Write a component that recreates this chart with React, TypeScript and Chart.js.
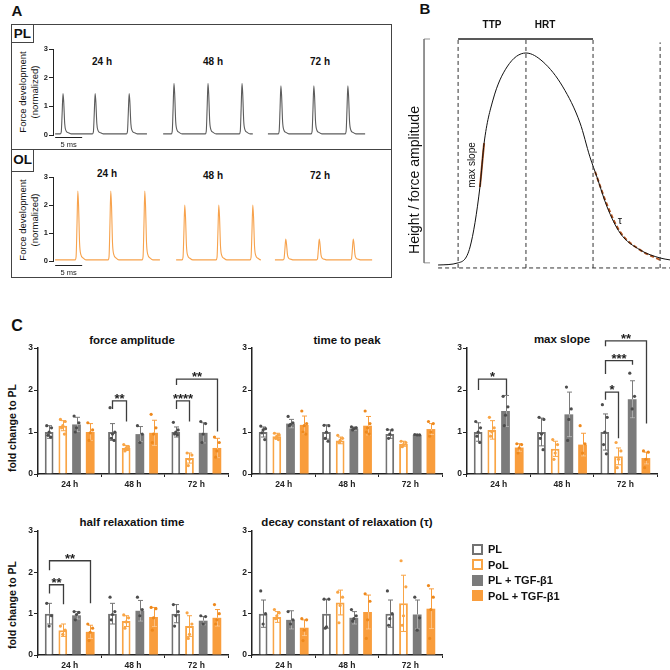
import React, { useEffect, useRef } from "react";
import { Chart, registerables } from "chart.js";

Chart.register(...registerables);

const FONT = '"Liberation Sans", Arial, Helvetica, sans-serif';

// ---------------- Panel A: normalized twitch traces ----------------
const TRACE_TIMEPOINTS = ["24 h", "48 h", "72 h"];
const TRACE_Y_MAX = 3;
const TRACE_BASELINE = 0.04;
// time windows (ms) of each recording and the time (ms) of every twitch peak
const PL_SEGMENTS = [[0.4, 17.4], [20.4, 37.0], [39.8, 57.8]];
const PL_PEAK_TIMES = [[1.85, 7.8, 14.1], [22.4, 28.7, 35.0], [42.2, 48.3, 54.6]];
const PL_PEAK_HEIGHTS = [1.45, 1.8, 1.72];
const OL_SEGMENTS = [[0.4, 19.8], [22.8, 38.3], [41.1, 59.1]];
const OL_PEAK_TIMES = [[4.6, 10.7, 17.0], [24.4, 30.7, 37.0], [43.1, 49.3, 55.6]];
const OL_PEAK_HEIGHTS = [2.5, 2.0, 0.78];
// single twitch profile: [ms relative to peak, fraction of peak height]
const TWITCH_SHAPE = [
  [-0.5, 0], [-0.32, 0.05], [-0.16, 0.5], [0, 1], [0.14, 0.78],
  [0.32, 0.25], [0.55, 0.08], [0.95, 0.03], [1.5, 0],
];
const SCALE_BAR_MS = [0.4, 5.4];

// ---------------- Panel B: twitch parameter schematic ----------------
const B_CURVE_T = [10.8, 18.5, 23.1, 26.9, 28.5, 31.9, 37.3, 44.6, 51.2, 58.8, 65.4, 69.2, 71.9, 75.8, 80.8, 88.5, 96.2, 100];
const B_CURVE_V = [0, 0.01, 0.085, 0.368, 0.575, 0.778, 0.934, 1.0, 0.958, 0.84, 0.67, 0.51, 0.415, 0.274, 0.151, 0.071, 0.033, 0.024];
const B_SLOPE_T = [26.9, 28.5];
const B_SLOPE_V = [0.368, 0.575];
const B_TAU_T = [71.2, 75.8, 80.8, 88.5, 96.2];
const B_TAU_V = [0.44, 0.283, 0.156, 0.071, 0.024];
const B_GUIDE_T = [18.5, 44.6, 70.4, 96.2];
const B_GUIDE_TOP = [1.066, 1.066, 1.066, 1.05];
const B_BASE_V = -0.014;
const B_TOP_V = 1.066;

// ---------------- Panel C: fold change to PL ----------------
const GROUPS = ["PL", "PoL", "PL + TGF-β1", "PoL + TGF-β1"];
const TIMEPOINTS = ["24 h", "48 h", "72 h"];
const Y_TICKS = [0, 1, 2, 3];
const BAR_FILL = ["#ffffff", "#ffffff", "#7b7b7b", "#f99d3c"];
const BAR_EDGE = ["#727272", "#f9a546", "#7b7b7b", "#f99d3c"];
const DOT_COLOR = ["#4d4d4d", "#f9a546", "#4d4d4d", "#ee891d"];

// values indexed [group][timepoint]; dots are individual samples
const forceAmpMean = [[1.0, 1.0, 1.0], [1.15, 0.62, 0.38], [1.18, 0.95, 0.98], [1.0, 0.98, 0.62]];
const forceAmpSD = [[0.15, 0.2, 0.12], [0.12, 0.06, 0.12], [0.17, 0.18, 0.24], [0.2, 0.3, 0.23]];
const forceAmpDots = [
  [[1.15, 1.1, 1.0, 0.92, 0.88], [1.58, 1.0, 0.95, 0.85, 0.8], [1.23, 1.05, 1.0, 0.95, 0.93]],
  [[1.3, 1.25, 1.15, 1.1, 0.95], [0.7, 0.65, 0.62, 0.55], [0.5, 0.45, 0.35, 0.2]],
  [[1.38, 1.22, 1.1, 1.0], [1.15, 0.95, 0.75], [1.25, 1.2, 0.95, 0.75]],
  [[1.22, 1.05, 0.98, 0.8], [1.42, 1.1, 0.95, 0.75], [0.88, 0.75, 0.55, 0.4]],
];
// [timepoint, from group, to group, bracket top, left leg end, right leg end, label]
const forceAmpStats = [
  [1, 0, 1, 1.74, 1.55, 1.25, "**"],
  [2, 0, 1, 1.74, 1.55, 1.25, "****"],
  [2, 0, 3, 2.26, 2.12, 1.01, "**"],
];

const ttpMean = [[1.0, 1.0, 0.95], [0.9, 0.8, 0.72], [1.2, 1.08, 0.93], [1.17, 1.15, 1.07]];
const ttpSD = [[0.12, 0.17, 0.1], [0.07, 0.08, 0.06], [0.1, 0.04, 0.01], [0.21, 0.22, 0.13]];
const ttpDots = [
  [[1.14, 1.08, 1.05, 0.98, 0.82], [1.16, 1.15, 1.0, 0.85, 0.78], [1.06, 1.05, 0.95, 0.85]],
  [[0.97, 0.93, 0.9, 0.85, 0.82], [0.92, 0.85, 0.8, 0.75], [0.78, 0.75, 0.7, 0.65]],
  [[1.37, 1.22, 1.18, 1.15], [1.12, 1.1, 1.08, 1.05], [0.94, 0.93, 0.93]],
  [[1.5, 1.2, 1.15, 1.0, 0.95], [1.5, 1.2, 1.1, 1.0, 0.95], [1.25, 1.2, 1.0, 0.9]],
];
const ttpStats: any[] = [];

const slopeMean = [[1.0, 1.0, 1.0], [1.05, 0.6, 0.42], [1.5, 1.42, 1.78], [0.63, 0.7, 0.38]];
const slopeSD = [[0.22, 0.33, 0.43], [0.22, 0.18, 0.2], [0.37, 0.53, 0.44], [0.09, 0.27, 0.14]];
const slopeDots = [
  [[1.25, 1.1, 1.0, 0.9, 0.75], [1.35, 1.3, 0.95, 0.85, 0.58], [1.65, 1.35, 1.0, 0.7, 0.48]],
  [[1.35, 1.1, 1.0, 0.9], [0.82, 0.7, 0.5, 0.35], [0.75, 0.55, 0.35, 0.15]],
  [[1.85, 1.6, 1.4, 1.15], [2.07, 1.55, 1.3, 0.8], [2.4, 1.85, 1.55]],
  [[0.72, 0.7, 0.62, 0.5], [1.15, 0.72, 0.5], [0.55, 0.52, 0.35, 0.15]],
];
const slopeStats = [
  [0, 0, 2, 2.26, 2.0, 1.88, "*"],
  [2, 0, 1, 1.95, 1.77, 0.85, "*"],
  [2, 0, 2, 2.7, 2.38, 2.6, "***"],
  [2, 0, 3, 3.17, 3.04, 1.2, "**"],
];

const hrtMean = [[1.0, 1.0, 1.0], [0.6, 0.82, 0.7], [0.96, 1.07, 0.83], [0.56, 0.92, 0.9]];
const hrtSD = [[0.25, 0.25, 0.22], [0.15, 0.13, 0.25], [0.09, 0.25, 0.1], [0.16, 0.23, 0.2]];
const hrtDots = [
  [[1.25, 0.95, 0.7], [1.4, 1.05, 0.98, 0.85], [1.22, 1.05, 0.95, 0.7]],
  [[0.7, 0.6, 0.5], [0.97, 0.9, 0.8, 0.65], [1.02, 0.75, 0.5, 0.4]],
  [[1.05, 1.03, 0.98, 0.85], [1.4, 1.1, 0.95], [0.95, 0.93, 0.75]],
  [[0.75, 0.65, 0.55, 0.35], [1.15, 1.12, 0.9, 0.6], [1.22, 1.0, 0.85, 0.75]],
];
const hrtStats = [
  [0, 0, 1, 1.7, 1.49, 1.23, "**"],
  [0, 0, 3, 2.28, 2.05, 1.25, "**"],
];

const tauMean = [[1.0, 1.0, 1.0], [0.92, 1.27, 1.25], [0.85, 0.9, 0.98], [0.66, 1.04, 1.12]];
const tauSD = [[0.33, 0.35, 0.33], [0.13, 0.3, 0.68], [0.22, 0.15, 0.35], [0.19, 0.41, 0.48]];
const tauDots = [
  [[1.55, 1.0, 0.75], [1.35, 1.35, 0.68, 0.65], [1.55, 1.0, 0.88, 0.72]],
  [[1.1, 1.02, 0.95, 0.88], [1.52, 1.4, 1.2, 0.78], [2.28, 1.65, 0.95, 0.72]],
  [[1.05, 0.85, 0.75], [1.1, 0.95, 0.88, 0.82], [1.4, 0.9, 0.6]],
  [[0.88, 0.85, 0.6, 0.35], [1.48, 1.3, 0.85, 0.4], [1.68, 1.4, 1.1, 0.4]],
];
const tauStats: any[] = [];

const DOT_JITTER = [-2.4, 2.4, 0, -1.2, 1.6];

// ---------------- helpers ----------------
function Label(props: {
  x: number; y: number; size: number; bold?: boolean; rotate?: boolean;
  color?: string; lineHeight?: number; children: React.ReactNode;
}) {
  const { x, y, size, bold, rotate, color, lineHeight, children } = props;
  return (
    <div
      style={{
        position: "absolute",
        left: x,
        top: y,
        transform: `translate(-50%, -50%)${rotate ? " rotate(-90deg)" : ""}`,
        fontFamily: FONT,
        fontSize: size,
        fontWeight: bold ? 700 : 400,
        color: color || "#111",
        whiteSpace: "nowrap",
        lineHeight: lineHeight ? `${lineHeight}px` : 1,
        textAlign: "center",
      }}
    >
      {children}
    </div>
  );
}

function twitchTrace(seg: number[], peaks: number[], h: number) {
  const pts = [{ x: seg[0], y: TRACE_BASELINE }];
  peaks.forEach((p) =>
    TWITCH_SHAPE.forEach(([dt, f]) =>
      pts.push({ x: p + dt, y: TRACE_BASELINE + (h - TRACE_BASELINE) * f })
    )
  );
  pts.push({ x: seg[1], y: TRACE_BASELINE });
  return pts;
}

// ---------------- Panel A chart ----------------
function TracePanel(props: {
  segments: number[][]; peaks: number[][]; heights: number[];
  color: string; top: number; plotH: number; barGap: number;
}) {
  const { segments, peaks, heights, color, top, plotH, barGap } = props;
  const ref = useRef<HTMLCanvasElement>(null);
  const PAD_T = 6, PAD_B = 16, AX_W = 20, PLOT_W = 324;
  useEffect(() => {
    const scaleBar = {
      id: "scaleBar",
      afterDraw(chart: any) {
        const { ctx } = chart;
        const xs = chart.scales.x, ys = chart.scales.y;
        const x1 = xs.getPixelForValue(SCALE_BAR_MS[0]);
        const x2 = xs.getPixelForValue(SCALE_BAR_MS[1]);
        const y = ys.getPixelForValue(0) + barGap;
        ctx.save();
        ctx.strokeStyle = "#222";
        ctx.lineWidth = 1;
        ctx.beginPath();
        ctx.moveTo(x1, y + 0.5);
        ctx.lineTo(x2, y + 0.5);
        ctx.stroke();
        ctx.fillStyle = "#222";
        ctx.font = `7.5px ${FONT}`;
        ctx.textAlign = "center";
        ctx.textBaseline = "middle";
        ctx.fillText("5 ms", (x1 + x2) / 2, y + 8);
        ctx.restore();
      },
    };
    const chart = new Chart(ref.current as HTMLCanvasElement, {
      type: "line",
      data: {
        datasets: segments.map((seg, i) => ({
          data: twitchTrace(seg, peaks[i], heights[i]),
          borderColor: color,
          borderWidth: 1.1,
          pointRadius: 0,
          cubicInterpolationMode: "monotone",
          fill: false,
        })),
      },
      options: {
        animation: false,
        responsive: false,
        maintainAspectRatio: false,
        layout: { padding: { top: PAD_T, right: 4, bottom: PAD_B, left: 0 } },
        plugins: { legend: { display: false }, tooltip: { enabled: false } },
        scales: {
          x: { type: "linear", min: 0, max: 60, display: false },
          y: {
            min: 0,
            max: TRACE_Y_MAX,
            ticks: { stepSize: 1, color: "#222", padding: 1, font: { size: 7.5, weight: "bold", family: FONT } },
            grid: { display: true, drawOnChartArea: false, drawTicks: true, tickLength: 4, color: "#222" },
            border: { color: "#222", width: 1 },
            afterFit: (s: any) => { s.width = AX_W; },
          },
        },
      },
      plugins: [scaleBar],
    } as any);
    return () => chart.destroy();
  }, []);
  return (
    <canvas
      ref={ref}
      width={AX_W + PLOT_W + 4}
      height={PAD_T + plotH + PAD_B}
      style={{ position: "absolute", left: 53 - AX_W, top: top - PAD_T }}
    />
  );
}

// ---------------- Panel B chart ----------------
function SchematicPanel() {
  const ref = useRef<HTMLCanvasElement>(null);
  useEffect(() => {
    const pts = (t: number[], v: number[]) => t.map((x, i) => ({ x, y: v[i] }));
    const guides = B_GUIDE_T.map((t, i) => ({
      data: [{ x: t, y: B_BASE_V }, { x: t, y: B_GUIDE_TOP[i] }],
      borderColor: "#333",
      borderWidth: 1,
      borderDash: [4, 3],
      pointRadius: 0,
      clip: false,
    }));
    const chart = new Chart(ref.current as HTMLCanvasElement, {
      type: "line",
      data: {
        datasets: [
          ...guides,
          {
            data: [{ x: B_CURVE_T[0], y: B_BASE_V }, { x: 100, y: B_BASE_V }],
            borderColor: "#333", borderWidth: 1, borderDash: [4, 3], pointRadius: 0, clip: false,
          },
          {
            data: [{ x: B_GUIDE_T[0], y: B_TOP_V }, { x: B_GUIDE_T[2], y: B_TOP_V }],
            borderColor: "#222", borderWidth: 1.3, pointRadius: 0, clip: false,
          },
          {
            data: [
              { x: 7.7, y: B_TOP_V }, { x: 5.4, y: B_TOP_V },
              { x: 5.4, y: 0.01 }, { x: 7.7, y: 0.01 },
            ],
            borderColor: "#777", borderWidth: 0.8, pointRadius: 0, clip: false,
          },
          {
            data: pts(B_CURVE_T, B_CURVE_V),
            borderColor: "#111", borderWidth: 1, pointRadius: 0,
            cubicInterpolationMode: "monotone", clip: false,
          },
          {
            data: pts(B_SLOPE_T, B_SLOPE_V),
            borderColor: "#b4531e", borderWidth: 2, pointRadius: 0,
          },
          {
            data: pts(B_TAU_T, B_TAU_V),
            borderColor: "#b4531e", borderWidth: 2, borderDash: [4, 2.5], pointRadius: 0,
            cubicInterpolationMode: "monotone", clip: false,
          },
        ],
      },
      options: {
        animation: false,
        responsive: false,
        maintainAspectRatio: false,
        layout: { padding: 0 },
        plugins: { legend: { display: false }, tooltip: { enabled: false } },
        scales: {
          x: { type: "linear", min: 0, max: 100, display: false },
          y: { min: -0.0708, max: 1.25, display: false },
        },
      },
    } as any);
    return () => chart.destroy();
  }, []);
  return <canvas ref={ref} width={260} height={280} style={{ position: "absolute", left: 410, top: 0 }} />;
}

// ---------------- Panel C chart ----------------
function BarPanel(props: {
  means: number[][]; sds: number[][]; dots: number[][][]; stats: any[];
  axisX: number; y3: number; y0: number;
}) {
  const { means, sds, dots, stats, axisX, y3, y0 } = props;
  const ref = useRef<HTMLCanvasElement>(null);
  const AX_W = 24, PAD_T = 40, AX_H = 18, PLOT_W = 190, PAD_R = 4;
  const plotH = y0 - y3;
  useEffect(() => {
    const marks = {
      id: "marks",
      afterDatasetsDraw(chart: any) {
        const { ctx } = chart;
        const ys = chart.scales.y;
        const barX = (g: number, t: number) => chart.getDatasetMeta(g).data[t].x;
        ctx.save();
        // error bars (mean ± SD)
        for (let g = 0; g < GROUPS.length; g++) {
          for (let t = 0; t < TIMEPOINTS.length; t++) {
            const x = Math.round(barX(g, t)) + 0.5;
            const m = means[g][t], s = sds[g][t];
            const yt = ys.getPixelForValue(m + s);
            const ym = ys.getPixelForValue(m);
            const yb = ys.getPixelForValue(Math.max(0, m - s));
            ctx.lineWidth = 1;
            ctx.strokeStyle = BAR_EDGE[g];
            ctx.beginPath();
            ctx.moveTo(x, ym);
            ctx.lineTo(x, yt);
            ctx.moveTo(x - 2.5, yt);
            ctx.lineTo(x + 2.5, yt);
            ctx.stroke();
            ctx.strokeStyle = g >= 2 ? "rgba(255,255,255,0.35)" : BAR_EDGE[g];
            ctx.beginPath();
            ctx.moveTo(x, ym);
            ctx.lineTo(x, yb);
            ctx.moveTo(x - 2.5, yb);
            ctx.lineTo(x + 2.5, yb);
            ctx.stroke();
          }
        }
        // individual samples
        for (let g = 0; g < GROUPS.length; g++) {
          for (let t = 0; t < TIMEPOINTS.length; t++) {
            const x = barX(g, t);
            ctx.fillStyle = DOT_COLOR[g];
            dots[g][t].forEach((v, i) => {
              ctx.beginPath();
              ctx.arc(x + DOT_JITTER[i % DOT_JITTER.length], ys.getPixelForValue(v), 1.6, 0, Math.PI * 2);
              ctx.fill();
            });
          }
        }
        // significance brackets
        stats.forEach(([t, g1, g2, top, l1, l2, label]) => {
          const x1 = Math.round(barX(g1, t)) + 0.5;
          const x2 = Math.round(barX(g2, t)) + 0.5;
          const yTop = ys.getPixelForValue(top);
          ctx.strokeStyle = "#3c3c3c";
          ctx.lineWidth = 1.3;
          ctx.beginPath();
          ctx.moveTo(x1, ys.getPixelForValue(l1));
          ctx.lineTo(x1, yTop);
          ctx.lineTo(x2, yTop);
          ctx.lineTo(x2, ys.getPixelForValue(l2));
          ctx.stroke();
          ctx.fillStyle = "#222";
          ctx.font = `bold 13px ${FONT}`;
          ctx.textAlign = "center";
          ctx.textBaseline = "alphabetic";
          ctx.fillText(label, (x1 + x2) / 2, yTop + 2);
        });
        ctx.restore();
      },
    };
    const chart = new Chart(ref.current as HTMLCanvasElement, {
      type: "bar",
      data: {
        labels: TIMEPOINTS,
        datasets: GROUPS.map((name, g) => ({
          label: name,
          data: means[g],
          backgroundColor: BAR_FILL[g],
          borderColor: BAR_EDGE[g],
          borderWidth: g < 2 ? 2 : 0,
          borderSkipped: "start",
          barPercentage: 0.64,
          categoryPercentage: 0.865,
        })),
      },
      options: {
        animation: false,
        responsive: false,
        maintainAspectRatio: false,
        layout: { padding: { top: PAD_T, right: PAD_R, bottom: 0, left: 0 } },
        plugins: { legend: { display: false }, tooltip: { enabled: false } },
        scales: {
          x: {
            type: "category",
            offset: true,
            ticks: { color: "#222", padding: 3, font: { size: 8.5, weight: "bold", family: FONT } },
            grid: { display: true, drawOnChartArea: false, drawTicks: true, tickLength: 3, color: "#222" },
            border: { color: "#222", width: 1.5 },
            afterFit: (s: any) => { s.height = AX_H; },
          },
          y: {
            min: Y_TICKS[0],
            max: Y_TICKS[Y_TICKS.length - 1],
            ticks: { stepSize: 1, color: "#222", padding: 1, font: { size: 8.5, weight: "bold", family: FONT } },
            grid: { display: true, drawOnChartArea: false, drawTicks: true, tickLength: 4, color: "#222" },
            border: { color: "#222", width: 1.5 },
            afterFit: (s: any) => { s.width = AX_W; },
          },
        },
      },
      plugins: [marks],
    } as any);
    return () => chart.destroy();
  }, []);
  return (
    <canvas
      ref={ref}
      width={AX_W + PLOT_W + PAD_R}
      height={PAD_T + plotH + AX_H}
      style={{ position: "absolute", left: axisX - AX_W, top: y3 - PAD_T }}
    />
  );
}

function LegendRow({ g, y }: { g: number; y: number }) {
  const outlined = g < 2;
  return (
    <>
      <div
        style={{
          position: "absolute",
          left: 472,
          top: y - 5.5,
          width: outlined ? 7 : 11,
          height: outlined ? 7 : 11,
          border: outlined ? `2px solid ${BAR_EDGE[g]}` : "none",
          background: BAR_FILL[g],
        }}
      />
      <div
        style={{
          position: "absolute",
          left: 488,
          top: y,
          transform: "translateY(-50%)",
          fontFamily: FONT,
          fontWeight: 700,
          fontSize: 11,
          lineHeight: 1,
          color: "#111",
          whiteSpace: "nowrap",
        }}
      >
        {GROUPS[g]}
      </div>
    </>
  );
}

export default function App() {
  const boxLine = "1px solid #444";
  return (
    <div style={{ position: "absolute", left: 0, top: 0, width: 670, height: 670, background: "#fff", overflow: "hidden" }}>
      {/* ---- A ---- */}
      <Label x={17} y={9.5} size={15} bold>A</Label>
      <div style={{ position: "absolute", left: 11, top: 24, width: 379, height: 252, border: boxLine }} />
      <div style={{ position: "absolute", left: 11, top: 149, width: 380, height: 0, borderTop: boxLine }} />
      <div style={{ position: "absolute", left: 11, top: 24, width: 21, height: 17, border: boxLine }} />
      <div style={{ position: "absolute", left: 11, top: 149, width: 21, height: 21, border: boxLine }} />
      <Label x={22.5} y={33.5} size={13.5} bold>PL</Label>
      <Label x={22.5} y={160} size={13.5} bold>OL</Label>
      <Label x={29} y={92} size={9.5} rotate lineHeight={12}>Force development<br />(normalized)</Label>
      <Label x={29} y={220} size={9.5} rotate lineHeight={12}>Force development<br />(normalized)</Label>
      <Label x={102} y={62} size={10} bold>{TRACE_TIMEPOINTS[0]}</Label>
      <Label x={213} y={62} size={10} bold>{TRACE_TIMEPOINTS[1]}</Label>
      <Label x={320} y={62} size={10} bold>{TRACE_TIMEPOINTS[2]}</Label>
      <Label x={107} y={174} size={10} bold>{TRACE_TIMEPOINTS[0]}</Label>
      <Label x={213} y={176} size={10} bold>{TRACE_TIMEPOINTS[1]}</Label>
      <Label x={320} y={176} size={10} bold>{TRACE_TIMEPOINTS[2]}</Label>
      <TracePanel segments={PL_SEGMENTS} peaks={PL_PEAK_TIMES} heights={PL_PEAK_HEIGHTS} color="#5c5c5c" top={49} plotH={86} barGap={2} />
      <TracePanel segments={OL_SEGMENTS} peaks={OL_PEAK_TIMES} heights={OL_PEAK_HEIGHTS} color="#f7a24c" top={177} plotH={84} barGap={4} />

      {/* ---- B ---- */}
      <Label x={425} y={8} size={15} bold>B</Label>
      <SchematicPanel />
      <Label x={492} y={25} size={10} bold>TTP</Label>
      <Label x={545} y={25} size={10} bold>HRT</Label>
      <Label x={414} y={180} size={14} rotate>Height / force amplitude</Label>
      <Label x={472} y={165} size={10} rotate>max slope</Label>
      <Label x={620} y={220} size={11}>τ</Label>

      {/* ---- C ---- */}
      <Label x={17} y={326} size={16} bold>C</Label>
      <Label x={12} y={428} size={10.5} bold rotate>fold change to PL</Label>
      <Label x={12} y={605} size={10.5} bold rotate>fold change to PL</Label>
      <Label x={132} y={341} size={11.5} bold>force amplitude</Label>
      <Label x={347} y={341} size={11.5} bold>time to peak</Label>
      <Label x={562} y={340} size={11.5} bold>max slope</Label>
      <Label x={132} y={523} size={11.5} bold>half relaxation time</Label>
      <Label x={347} y={523} size={11.5} bold>decay constant of relaxation (τ)</Label>
      <BarPanel means={forceAmpMean} sds={forceAmpSD} dots={forceAmpDots} stats={forceAmpStats} axisX={38} y3={348} y0={474} />
      <BarPanel means={ttpMean} sds={ttpSD} dots={ttpDots} stats={ttpStats} axisX={252} y3={348} y0={474} />
      <BarPanel means={slopeMean} sds={slopeSD} dots={slopeDots} stats={slopeStats} axisX={467} y3={348} y0={474} />
      <BarPanel means={hrtMean} sds={hrtSD} dots={hrtDots} stats={hrtStats} axisX={38} y3={531} y0={655} />
      <BarPanel means={tauMean} sds={tauSD} dots={tauDots} stats={tauStats} axisX={252} y3={531} y0={655} />
      <LegendRow g={0} y={549} />
      <LegendRow g={1} y={564.5} />
      <LegendRow g={2} y={580} />
      <LegendRow g={3} y={595.5} />
    </div>
  );
}
